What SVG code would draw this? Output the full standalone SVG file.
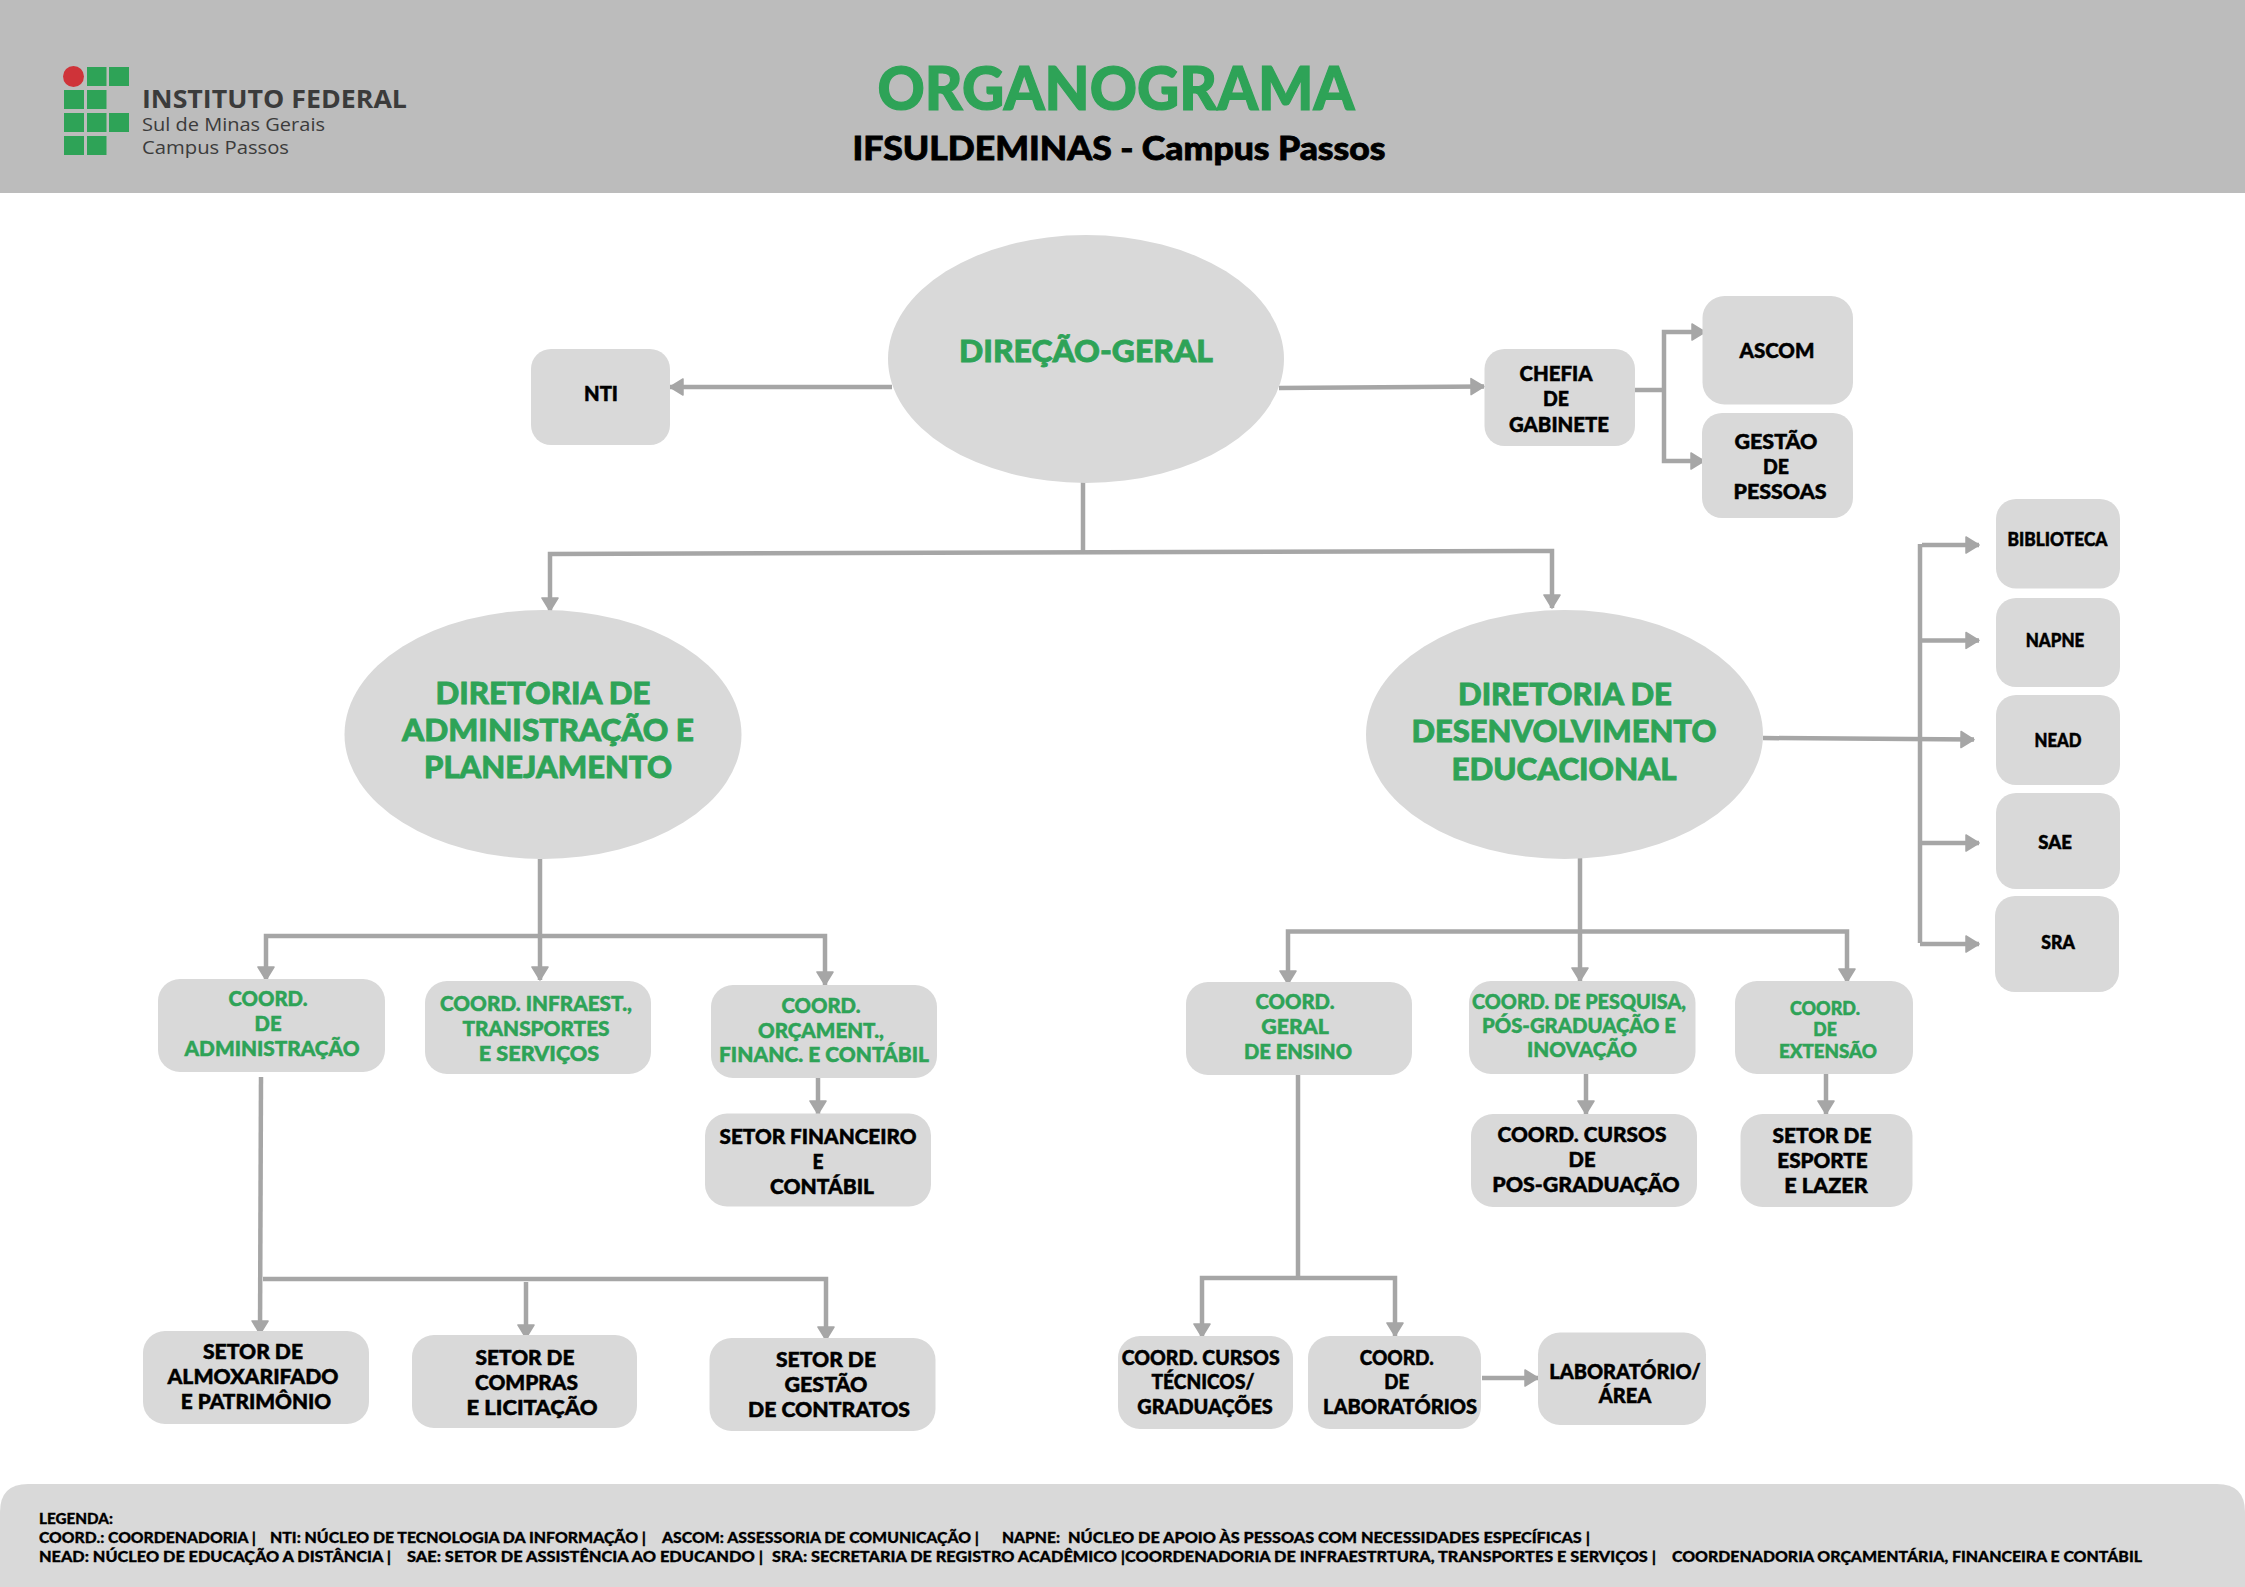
<svg xmlns="http://www.w3.org/2000/svg" width="2245" height="1587" viewBox="0 0 2245 1587">
<style>
.n{fill:#d9d9d9}
.c{fill:none;stroke:#a6a6a6;stroke-width:4.500}
.a{marker-end:url(#arrow)}
.d{marker-start:url(#arrow)}
.t{font-family:"Lato","Liberation Sans",sans-serif;font-weight:900;text-anchor:middle;fill:#000;stroke:#000;stroke-width:.5px}
.g{fill:#2ea357;stroke:#2ea357}
.s{font-size:21px}
.m{font-size:31px;stroke-width:.8px}
.x{font-size:18px}
.k{font-family:"Lato","Liberation Sans",sans-serif;font-weight:900;font-size:15px;fill:#000;stroke:#000;stroke-width:.3px}
.o{font-family:"Open Sans","Liberation Sans",sans-serif;fill:#3b3b3b}
.b{fill:#2ea357}
</style>
<defs>
<marker id="arrow" markerUnits="userSpaceOnUse" markerWidth="16" markerHeight="20" refX="15" refY="10" orient="auto-start-reverse" viewBox="0 0 16 20">
<path d="M2 2 L15 10 L2 18 Z" fill="#a6a6a6" stroke="#a6a6a6" stroke-width="1.500" stroke-linejoin="round"/>
</marker>
</defs>
<rect width="2245" height="1587" fill="#ffffff"/>
<g id="header">
<rect x="0" y="0" width="2245" height="193" fill="#bcbcbc"/>
<g id="logo">
<ellipse cx="73.500" cy="76.500" rx="10.500" ry="10.500" fill="#cf3339"/>
<rect class="b" x="87" y="67" width="19.500" height="19"/><rect class="b" x="109" y="67" width="20" height="19"/>
<rect class="b" x="64" y="90" width="20" height="19"/><rect class="b" x="87" y="90" width="19.500" height="19"/>
<rect class="b" x="64" y="113" width="20" height="19"/><rect class="b" x="87" y="113" width="19.500" height="19"/><rect class="b" x="109" y="113" width="20" height="19"/>
<rect class="b" x="64" y="136" width="20" height="19"/><rect class="b" x="87" y="136" width="19.500" height="19"/>
<text class="o" x="142" y="108" font-size="25" font-weight="700" textLength="265" lengthAdjust="spacingAndGlyphs">INSTITUTO FEDERAL</text>
<text class="o" x="142" y="131" font-size="18" font-weight="400" textLength="183" lengthAdjust="spacingAndGlyphs">Sul de Minas Gerais</text>
<text class="o" x="142" y="154" font-size="18" font-weight="400" textLength="147" lengthAdjust="spacingAndGlyphs">Campus Passos</text>
</g>
<text class="t g" x="1116" y="109.500" font-size="60" textLength="477" lengthAdjust="spacingAndGlyphs" style="stroke-width:1.200px">ORGANOGRAMA</text>
<text class="t" x="1119" y="160" font-size="33" textLength="533" lengthAdjust="spacingAndGlyphs" style="stroke-width:.8px">IFSULDEMINAS - Campus Passos</text>
</g>
<g id="connectors">
<path class="c a" d="M892 387 H670"/>
<path class="c a" d="M1279 388 L1484 386.500"/>
<path class="c" d="M1635 390 H1664"/>
<path class="c a d" d="M1705 332 H1664 V461 H1704"/>
<path class="c" d="M1083 482 V553"/>
<path class="c a d" d="M550 611 V554 L1552 551 V608"/>
<path class="c a" d="M540 859 V980"/>
<path class="c a d" d="M266 980 V936 H825 V985"/>
<path class="c a" d="M818 1078 V1114"/>
<path class="c a" d="M261 1077 L260 1334"/>
<path class="c a" d="M263 1279 H826 V1340"/>
<path class="c a" d="M526 1282 V1338"/>
<path class="c a" d="M1580 858 V981"/>
<path class="c a d" d="M1288 984 V931.500 H1847 V982"/>
<path class="c a" d="M1586 1074 V1114"/>
<path class="c a" d="M1826 1074 V1114"/>
<path class="c" d="M1298 1075 V1276"/>
<path class="c a d" d="M1202 1337 V1278 H1395 V1336"/>
<path class="c a" d="M1482 1378 H1538"/>
<path class="c a" d="M1763 738 L1974 739.600"/>
<path class="c" d="M1920 544 V943"/>
<path class="c a" d="M1922 545 H1979"/>
<path class="c a" d="M1922 640.400 H1979"/>
<path class="c a" d="M1922 843 H1979"/>
<path class="c a" d="M1920 944 H1979"/>
</g>
<g id="direcao-geral"><ellipse class="n" cx="1086" cy="359" rx="198" ry="124"/>
<text class="t g m"><tspan x="1086" y="362" textLength="254" lengthAdjust="spacingAndGlyphs">DIREÇÃO-GERAL</tspan></text></g>
<g id="nti"><rect class="n" x="531" y="349" width="139" height="96" rx="20"/>
<text class="t s"><tspan x="601" y="401" textLength="34" lengthAdjust="spacingAndGlyphs">NTI</tspan></text></g>
<g id="chefia"><rect class="n" x="1484.500" y="349" width="150.500" height="97" rx="20"/>
<text class="t s"><tspan x="1556" y="381" textLength="73" lengthAdjust="spacingAndGlyphs">CHEFIA</tspan><tspan x="1556" y="406" textLength="26" lengthAdjust="spacingAndGlyphs">DE</tspan><tspan x="1559" y="431.500" textLength="100" lengthAdjust="spacingAndGlyphs">GABINETE</tspan></text></g>
<g id="ascom"><rect class="n" x="1702.500" y="296" width="150.500" height="108.500" rx="22"/>
<text class="t s"><tspan x="1777" y="358" textLength="75" lengthAdjust="spacingAndGlyphs">ASCOM</tspan></text></g>
<g id="gestao-pessoas"><rect class="n" x="1702" y="413" width="151" height="105" rx="20"/>
<text class="t s"><tspan x="1776" y="449" textLength="83" lengthAdjust="spacingAndGlyphs">GESTÃO</tspan><tspan x="1776" y="474" textLength="26" lengthAdjust="spacingAndGlyphs">DE</tspan><tspan x="1780" y="499" textLength="93" lengthAdjust="spacingAndGlyphs">PESSOAS</tspan></text></g>
<g id="biblioteca"><rect class="n" x="1996" y="499" width="124" height="89.500" rx="20"/>
<text class="t x"><tspan x="2057.500" y="546" textLength="100" lengthAdjust="spacingAndGlyphs">BIBLIOTECA</tspan></text></g>
<g id="napne"><rect class="n" x="1996" y="598" width="124" height="89" rx="20"/>
<text class="t x"><tspan x="2055" y="647" textLength="58.500" lengthAdjust="spacingAndGlyphs">NAPNE</tspan></text></g>
<g id="nead"><rect class="n" x="1996" y="695" width="124" height="90" rx="20"/>
<text class="t x"><tspan x="2058" y="746.500" textLength="47" lengthAdjust="spacingAndGlyphs">NEAD</tspan></text></g>
<g id="sae"><rect class="n" x="1996" y="793" width="124" height="96" rx="20"/>
<text class="t x"><tspan x="2055" y="849" textLength="33.500" lengthAdjust="spacingAndGlyphs">SAE</tspan></text></g>
<g id="sra"><rect class="n" x="1995" y="896" width="124" height="96" rx="20"/>
<text class="t x"><tspan x="2058" y="949" textLength="33.500" lengthAdjust="spacingAndGlyphs">SRA</tspan></text></g>
<g id="dir-administracao"><ellipse class="n" cx="543" cy="734.500" rx="198.500" ry="124.500"/>
<text class="t g m"><tspan x="543" y="703.500" textLength="215" lengthAdjust="spacingAndGlyphs">DIRETORIA DE</tspan><tspan x="548" y="741" textLength="292" lengthAdjust="spacingAndGlyphs">ADMINISTRAÇÃO E</tspan><tspan x="548" y="778" textLength="248" lengthAdjust="spacingAndGlyphs">PLANEJAMENTO</tspan></text></g>
<g id="dir-desenvolvimento"><ellipse class="n" cx="1564.500" cy="734.500" rx="198.500" ry="124.500"/>
<text class="t g m"><tspan x="1565" y="704.500" textLength="214" lengthAdjust="spacingAndGlyphs">DIRETORIA DE</tspan><tspan x="1564" y="742" textLength="305" lengthAdjust="spacingAndGlyphs">DESENVOLVIMENTO</tspan><tspan x="1564" y="780" textLength="225" lengthAdjust="spacingAndGlyphs">EDUCACIONAL</tspan></text></g>
<g id="coord-adm"><rect class="n" x="158" y="979" width="227" height="93" rx="22"/>
<text class="t g s"><tspan x="268" y="1005.700" textLength="79" lengthAdjust="spacingAndGlyphs">COORD.</tspan><tspan x="268" y="1030.500" textLength="27" lengthAdjust="spacingAndGlyphs">DE</tspan><tspan x="272" y="1056" textLength="175" lengthAdjust="spacingAndGlyphs">ADMINISTRAÇÃO</tspan></text></g>
<g id="coord-infra"><rect class="n" x="425" y="981" width="226" height="93" rx="22"/>
<text class="t g s"><tspan x="536" y="1010.700" textLength="192" lengthAdjust="spacingAndGlyphs">COORD. INFRAEST.,</tspan><tspan x="536" y="1035.700" textLength="147" lengthAdjust="spacingAndGlyphs">TRANSPORTES</tspan><tspan x="539" y="1060.700" textLength="120.500" lengthAdjust="spacingAndGlyphs">E SERVIÇOS</tspan></text></g>
<g id="coord-orcament"><rect class="n" x="711" y="985" width="226" height="93" rx="22"/>
<text class="t g s"><tspan x="821" y="1012.500" textLength="79" lengthAdjust="spacingAndGlyphs">COORD.</tspan><tspan x="821" y="1037.500" textLength="126" lengthAdjust="spacingAndGlyphs">ORÇAMENT.,</tspan><tspan x="824" y="1062" textLength="210" lengthAdjust="spacingAndGlyphs">FINANC. E CONTÁBIL</tspan></text></g>
<g id="setor-financeiro"><rect class="n" x="705" y="1113.600" width="226" height="92.800" rx="22"/>
<text class="t s"><tspan x="818" y="1144" textLength="197" lengthAdjust="spacingAndGlyphs">SETOR FINANCEIRO</tspan><tspan x="818" y="1168.600" textLength="11" lengthAdjust="spacingAndGlyphs">E</tspan><tspan x="822" y="1193.600" textLength="104" lengthAdjust="spacingAndGlyphs">CONTÁBIL</tspan></text></g>
<g id="setor-almox"><rect class="n" x="143" y="1331" width="226" height="93" rx="22"/>
<text class="t s"><tspan x="253" y="1359" textLength="100" lengthAdjust="spacingAndGlyphs">SETOR DE</tspan><tspan x="253" y="1383.600" textLength="171" lengthAdjust="spacingAndGlyphs">ALMOXARIFADO</tspan><tspan x="256" y="1408.600" textLength="150.500" lengthAdjust="spacingAndGlyphs">E PATRIMÔNIO</tspan></text></g>
<g id="setor-compras"><rect class="n" x="412" y="1335" width="225" height="93" rx="22"/>
<text class="t s"><tspan x="525" y="1364.600" textLength="99" lengthAdjust="spacingAndGlyphs">SETOR DE</tspan><tspan x="526.500" y="1389.600" textLength="103" lengthAdjust="spacingAndGlyphs">COMPRAS</tspan><tspan x="532" y="1414.600" textLength="131" lengthAdjust="spacingAndGlyphs">E LICITAÇÃO</tspan></text></g>
<g id="setor-contratos"><rect class="n" x="709.500" y="1338" width="226" height="93" rx="22"/>
<text class="t s"><tspan x="826" y="1367" textLength="100" lengthAdjust="spacingAndGlyphs">SETOR DE</tspan><tspan x="826" y="1392" textLength="83" lengthAdjust="spacingAndGlyphs">GESTÃO</tspan><tspan x="829" y="1417" textLength="162" lengthAdjust="spacingAndGlyphs">DE CONTRATOS</tspan></text></g>
<g id="coord-ensino"><rect class="n" x="1186" y="982" width="226" height="93" rx="22"/>
<text class="t g s"><tspan x="1295" y="1009" textLength="79" lengthAdjust="spacingAndGlyphs">COORD.</tspan><tspan x="1295" y="1033.600" textLength="67.500" lengthAdjust="spacingAndGlyphs">GERAL</tspan><tspan x="1298" y="1058.600" textLength="108" lengthAdjust="spacingAndGlyphs">DE ENSINO</tspan></text></g>
<g id="coord-pesquisa"><rect class="n" x="1469" y="981" width="226.500" height="93" rx="22"/>
<text class="t g s"><tspan x="1579" y="1009" textLength="214" lengthAdjust="spacingAndGlyphs">COORD. DE PESQUISA,</tspan><tspan x="1579" y="1033" textLength="194" lengthAdjust="spacingAndGlyphs">PÓS-GRADUAÇÃO E</tspan><tspan x="1582" y="1057" textLength="110" lengthAdjust="spacingAndGlyphs">INOVAÇÃO</tspan></text></g>
<g id="coord-extensao"><rect class="n" x="1735" y="981" width="178" height="93" rx="22"/>
<text class="t g x"><tspan x="1825" y="1014.500" textLength="70" lengthAdjust="spacingAndGlyphs">COORD.</tspan><tspan x="1825" y="1036" textLength="23.500" lengthAdjust="spacingAndGlyphs">DE</tspan><tspan x="1828" y="1057.500" textLength="98" lengthAdjust="spacingAndGlyphs">EXTENSÃO</tspan></text></g>
<g id="coord-pos"><rect class="n" x="1471" y="1114" width="226" height="93" rx="22"/>
<text class="t s"><tspan x="1582" y="1141.800" textLength="169" lengthAdjust="spacingAndGlyphs">COORD. CURSOS</tspan><tspan x="1582" y="1166.800" textLength="27" lengthAdjust="spacingAndGlyphs">DE</tspan><tspan x="1586" y="1191.800" textLength="187.500" lengthAdjust="spacingAndGlyphs">POS-GRADUAÇÃO</tspan></text></g>
<g id="setor-esporte"><rect class="n" x="1740.500" y="1114" width="172" height="93" rx="22"/>
<text class="t s"><tspan x="1822" y="1143" textLength="99" lengthAdjust="spacingAndGlyphs">SETOR DE</tspan><tspan x="1822.500" y="1168" textLength="90.500" lengthAdjust="spacingAndGlyphs">ESPORTE</tspan><tspan x="1826" y="1193" textLength="83.500" lengthAdjust="spacingAndGlyphs">E LAZER</tspan></text></g>
<g id="coord-tecnicos"><rect class="n" x="1118" y="1336" width="175" height="93" rx="22"/>
<text class="t s"><tspan x="1200.700" y="1365" textLength="158" lengthAdjust="spacingAndGlyphs">COORD. CURSOS</tspan><tspan x="1203" y="1389" textLength="103" lengthAdjust="spacingAndGlyphs">TÉCNICOS/</tspan><tspan x="1205" y="1413.500" textLength="135.500" lengthAdjust="spacingAndGlyphs">GRADUAÇÕES</tspan></text></g>
<g id="coord-laboratorios"><rect class="n" x="1308" y="1336" width="173" height="93" rx="22"/>
<text class="t s"><tspan x="1396.700" y="1365" textLength="74" lengthAdjust="spacingAndGlyphs">COORD.</tspan><tspan x="1396.700" y="1389" textLength="25" lengthAdjust="spacingAndGlyphs">DE</tspan><tspan x="1400" y="1413.500" textLength="154" lengthAdjust="spacingAndGlyphs">LABORATÓRIOS</tspan></text></g>
<g id="laboratorio-area"><rect class="n" x="1538" y="1332.500" width="168" height="92.500" rx="22"/>
<text class="t s"><tspan x="1625" y="1379" textLength="151.500" lengthAdjust="spacingAndGlyphs">LABORATÓRIO/</tspan><tspan x="1625" y="1403" textLength="52.500" lengthAdjust="spacingAndGlyphs">ÁREA</tspan></text></g>
<g id="legenda">
<path class="n" d="M0 1587 V1512 Q0 1484 28 1484 H2217 Q2245 1484 2245 1512 V1587 Z"/>
<text class="k"><tspan x="39" y="1523.700" textLength="74" lengthAdjust="spacingAndGlyphs">LEGENDA:</tspan></text>
<text class="k"><tspan x="39" y="1543" textLength="217" lengthAdjust="spacingAndGlyphs">COORD.: COORDENADORIA |</tspan><tspan x="270" y="1543" textLength="376" lengthAdjust="spacingAndGlyphs">NTI: NÚCLEO DE TECNOLOGIA DA INFORMAÇÃO |</tspan><tspan x="662" y="1543" textLength="317" lengthAdjust="spacingAndGlyphs">ASCOM: ASSESSORIA DE COMUNICAÇÃO |</tspan><tspan x="1002" y="1543" textLength="58" lengthAdjust="spacingAndGlyphs">NAPNE:</tspan><tspan x="1068" y="1543" textLength="522" lengthAdjust="spacingAndGlyphs">NÚCLEO DE APOIO ÀS PESSOAS COM NECESSIDADES ESPECÍFICAS |</tspan></text>
<text class="k"><tspan x="39" y="1562" textLength="352" lengthAdjust="spacingAndGlyphs">NEAD: NÚCLEO DE EDUCAÇÃO A DISTÂNCIA |</tspan><tspan x="407" y="1562" textLength="356" lengthAdjust="spacingAndGlyphs">SAE: SETOR DE ASSISTÊNCIA AO EDUCANDO |</tspan><tspan x="772" y="1562" textLength="884" lengthAdjust="spacingAndGlyphs">SRA: SECRETARIA DE REGISTRO ACADÊMICO |COORDENADORIA DE INFRAESTRTURA, TRANSPORTES E SERVIÇOS |</tspan><tspan x="1672" y="1562" textLength="470" lengthAdjust="spacingAndGlyphs">COORDENADORIA ORÇAMENTÁRIA, FINANCEIRA E CONTÁBIL</tspan></text>
</g>
</svg>
